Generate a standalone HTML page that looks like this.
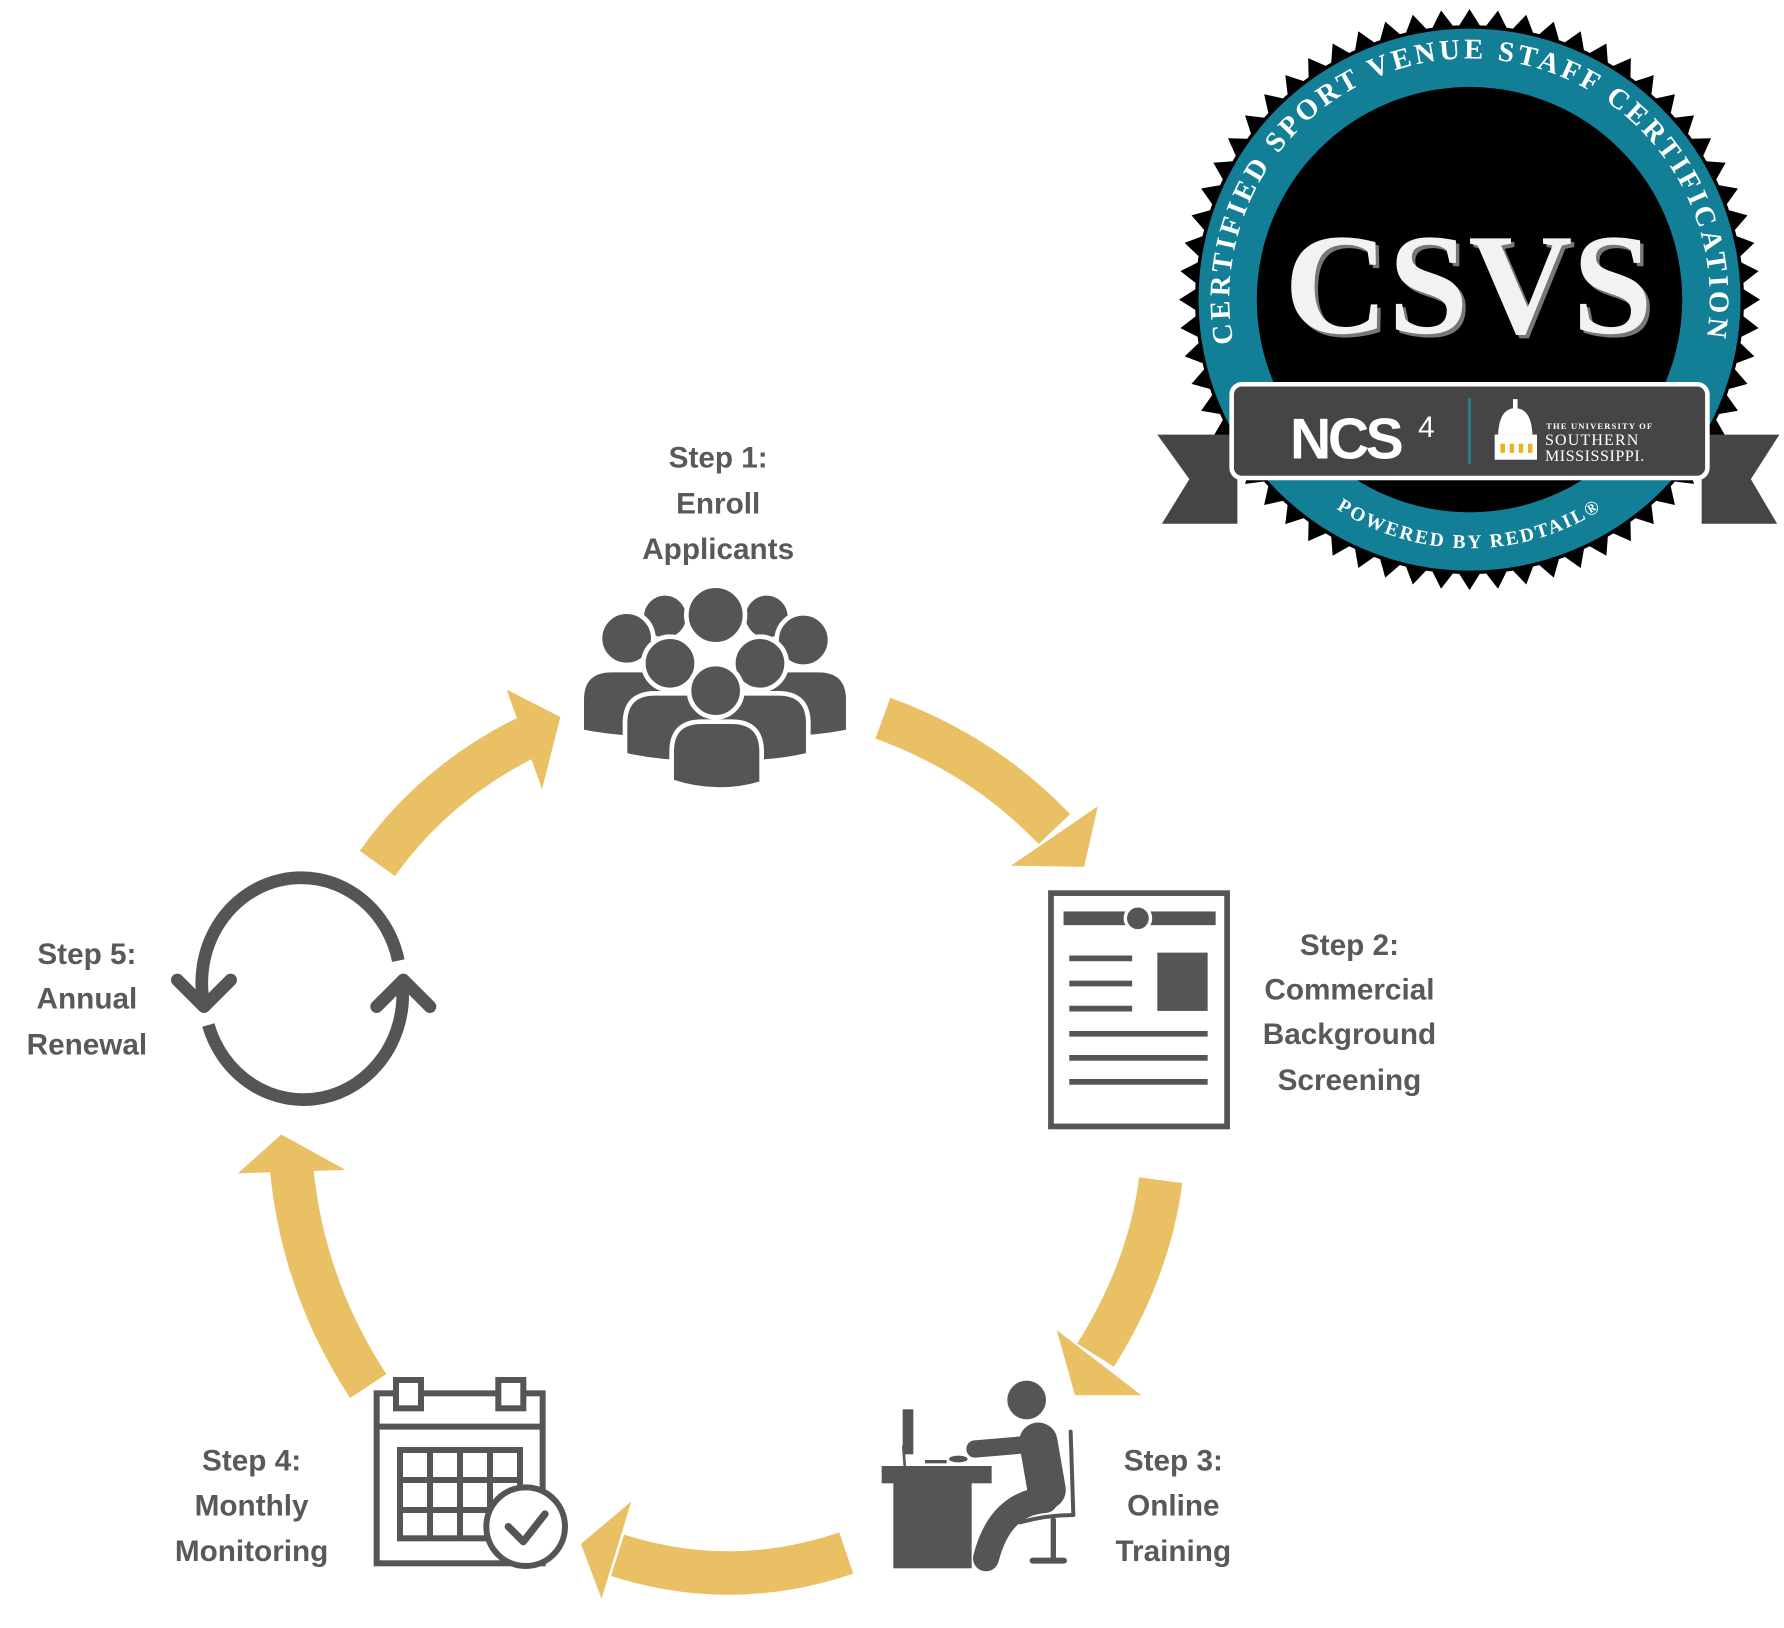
<!DOCTYPE html>
<html><head><meta charset="utf-8"><style>
html,body{margin:0;padding:0;background:#fff;}
svg{display:block;}
.lbl{font-family:"Liberation Sans",sans-serif;font-weight:bold;font-size:26px;fill:#595959;text-anchor:middle;}
</style></head><body>
<svg width="1784" height="1628" viewBox="0 0 1784 1628" xmlns="http://www.w3.org/2000/svg">
<g transform="scale(1.1436)">
  <!-- Badge -->
  <polygon id="star" fill="#000" points=""/>
  <circle cx="1285" cy="262" r="240" fill="#000" id="starfb"/>
  <circle cx="1285" cy="262" r="237" fill="#137f97"/>
  <circle cx="1285" cy="262" r="186" fill="#000"/>
  <defs>
    <path id="arcTop" d="M 1079 302 A 210 210 0 1 1 1491 302"/>
    <path id="arcBot" d="M 1111 390 A 214 214 0 0 0 1459 390"/>
  </defs>
  <text font-family="Liberation Serif,serif" font-weight="bold" font-size="25" fill="#fff"><textPath href="#arcTop" startOffset="2" textLength="732" lengthAdjust="spacing">CERTIFIED SPORT VENUE STAFF CERTIFICATION</textPath></text>
  <text font-family="Liberation Serif,serif" font-weight="bold" font-size="17" fill="#fff" letter-spacing="2"><textPath href="#arcBot" startOffset="50%" text-anchor="middle">POWERED BY REDTAIL®</textPath></text>
  <text x="1287" y="294" text-anchor="middle" font-family="Liberation Serif,serif" font-weight="bold" font-size="126" fill="#777">CSVS</text>
  <text x="1284" y="291" text-anchor="middle" font-family="Liberation Serif,serif" font-weight="bold" font-size="126" fill="#f2f2f2">CSVS</text>
  <polygon points="1012,380 1082,380 1082,458 1016,458 1040,419" fill="#454545"/>
  <polygon points="1488,380 1556,380 1531,419 1554,458 1488,458" fill="#454545"/>
  <rect x="1077" y="336" width="416" height="82" rx="9" fill="#454545" stroke="#fff" stroke-width="4"/>
  <text x="1128" y="401" font-family="Liberation Sans,sans-serif" font-weight="bold" font-size="50" fill="#fff" letter-spacing="-3">NCS</text>
  <text x="1240" y="382" font-family="Liberation Sans,sans-serif" font-size="26" fill="#fff">4</text>
  <line x1="1285" y1="348" x2="1285" y2="406" stroke="#1a8aa3" stroke-width="2"/>
  <g fill="#fff">
    <rect x="1323" y="349" width="4" height="10"/>
    <path d="M1310 380 Q1311 357 1325 357 Q1339 357 1340 380 Z"/>
    <rect x="1307" y="380" width="37" height="22"/>
  </g>
  <g fill="#e8b422"><rect x="1312" y="388" width="4" height="8"/><rect x="1320" y="388" width="4" height="8"/><rect x="1328" y="388" width="4" height="8"/><rect x="1336" y="388" width="4" height="8"/></g>
  <text x="1352" y="375" font-family="Liberation Serif,serif" font-weight="bold" font-size="7.5" fill="#fff" letter-spacing="1">THE UNIVERSITY OF</text>
  <text x="1351" y="389" font-family="Liberation Serif,serif" font-size="14" fill="#fff" letter-spacing="1">SOUTHERN</text>
  <text x="1351" y="403" font-family="Liberation Serif,serif" font-size="14" fill="#fff" letter-spacing="0.5">MISSISSIPPI.</text>

  <!-- Labels -->
  <text class="lbl"><tspan x="628" y="409">Step 1:</tspan><tspan x="628" y="449">Enroll</tspan><tspan x="628" y="489">Applicants</tspan></text>
  <text class="lbl"><tspan x="1180" y="835">Step 2:</tspan><tspan x="1180" y="874">Commercial</tspan><tspan x="1180" y="913">Background</tspan><tspan x="1180" y="953">Screening</tspan></text>
  <text class="lbl"><tspan x="1026" y="1286">Step 3:</tspan><tspan x="1026" y="1325">Online</tspan><tspan x="1026" y="1365">Training</tspan></text>
  <text class="lbl"><tspan x="220" y="1286">Step 4:</tspan><tspan x="220" y="1325">Monthly</tspan><tspan x="220" y="1365">Monitoring</tspan></text>
  <text class="lbl"><tspan x="76" y="843">Step 5:</tspan><tspan x="76" y="882">Annual</tspan><tspan x="76" y="922">Renewal</tspan></text>

  <!-- Arrows -->
  <g fill="none" stroke="#e9c064" stroke-width="38">
    <path d="M330 755 Q380 685 460 645"/>
    <path d="M772 628 Q860 660 922 725"/>
    <path d="M1015 1032 Q1005 1110 958 1185"/>
    <path d="M740 1358 Q640 1392 540 1360"/>
    <path d="M322 1212 Q265 1125 255 1022"/>
  </g>
  <g fill="#e9c064">
    <polygon points="443,603 490,627 474,690"/>
    <polygon points="960,705 948,758 884,757"/>
    <polygon points="924,1163 998,1220 940,1220"/>
    <polygon points="552,1313 508,1350 526,1398"/>
    <polygon points="208,1026 246,992 302,1023"/>
  </g>

  <!-- Document -->
  <rect x="919" y="781" width="154" height="204" fill="#fff" stroke="#555" stroke-width="5"/>
  <rect x="930" y="797" width="133" height="12" fill="#555"/>
  <circle cx="995" cy="803" r="11" fill="#555" stroke="#fff" stroke-width="3"/>
  <g stroke="#555" stroke-width="5"><line x1="935" y1="838" x2="990" y2="838"/><line x1="935" y1="860" x2="990" y2="860"/><line x1="935" y1="882" x2="990" y2="882"/><line x1="935" y1="904" x2="1056" y2="904"/><line x1="935" y1="925" x2="1056" y2="925"/><line x1="935" y1="946" x2="1056" y2="946"/></g>
  <rect x="1012" y="833" width="44" height="51" fill="#555"/>
</g>

<!-- People -->
<g transform="translate(570,570) scale(0.3333)" fill="#555" stroke="#fff" stroke-width="14">
  <circle cx="285" cy="140" r="70"/>
  <circle cx="590" cy="140" r="70"/>
  <circle cx="437" cy="135" r="88"/>
  <path d="M35 485 L35 390 Q35 300 125 300 L215 300 Q300 300 300 390 L300 505 Q160 510 35 485Z"/>
  <circle cx="170" cy="205" r="80"/>
  <path d="M835 485 L835 390 Q835 300 745 300 L655 300 Q570 300 570 390 L570 505 Q710 510 835 485Z"/>
  <circle cx="700" cy="210" r="80"/>
  <path d="M165 555 L165 460 Q165 370 255 370 L350 370 Q440 370 440 460 L440 575 Q290 585 165 555Z"/>
  <circle cx="300" cy="280" r="80"/>
  <path d="M715 555 L715 460 Q715 370 625 370 L530 370 Q435 370 435 460 L435 575 Q590 585 715 555Z"/>
  <circle cx="570" cy="280" r="80"/>
  <path d="M305 635 L305 545 Q305 455 395 455 L485 455 Q575 455 575 545 L575 640 Q440 680 305 635Z"/>
  <circle cx="437" cy="362" r="80"/>
</g>

<!-- Desk person -->
<g transform="translate(860,1350) scale(0.3333)">
  <g fill="#555">
    <circle cx="500" cy="150" r="58"/>
    <rect x="65" y="348" width="330" height="52"/>
    <rect x="100" y="398" width="235" height="257"/>
    <rect x="128" y="178" width="32" height="135"/>
    <rect x="195" y="330" width="65" height="10"/>
    <ellipse cx="295" cy="327" rx="28" ry="10"/>
  </g>
  <g fill="none" stroke="#555" stroke-linecap="round">
    <line x1="130" y1="290" x2="134" y2="345" stroke-width="8"/>
    <line x1="345" y1="297" x2="520" y2="282" stroke-width="52"/>
    <line x1="535" y1="275" x2="560" y2="420" stroke-width="115"/>
    <path d="M555 450 Q420 460 378 625" stroke-width="78"/>
    <line x1="632" y1="245" x2="640" y2="492" stroke-width="12"/>
    <path d="M480 517 Q560 495 640 495" stroke-width="12"/>
    <line x1="580" y1="510" x2="580" y2="630" stroke-width="16"/>
    <line x1="518" y1="632" x2="612" y2="632" stroke-width="18"/>
  </g>
</g>

<!-- Calendar -->
<g transform="translate(360,1370) scale(0.3333)" fill="none" stroke="#555" stroke-width="18">
  <rect x="50" y="70" width="498" height="510" fill="#fff"/>
  <line x1="50" y1="170" x2="548" y2="170"/>
  <rect x="108" y="30" width="75" height="85" fill="#fff"/>
  <rect x="415" y="30" width="75" height="85" fill="#fff"/>
  <rect x="120" y="240" width="360" height="265"/>
  <line x1="210" y1="240" x2="210" y2="505"/><line x1="300" y1="240" x2="300" y2="505"/><line x1="390" y1="240" x2="390" y2="505"/>
  <line x1="120" y1="330" x2="480" y2="330"/><line x1="120" y1="420" x2="480" y2="420"/>
  <circle cx="497" cy="470" r="118" fill="#fff"/>
  <polyline points="445,470 490,515 555,432" stroke-width="22" stroke-linecap="round" stroke-linejoin="round"/>
</g>

<!-- Renewal -->
<g transform="translate(160,870) scale(0.3333)" fill="none" stroke="#555" stroke-width="38" stroke-linecap="round" stroke-linejoin="round">
  <path d="M132 405 A 298 315 0 0 1 715 272" stroke-linecap="butt"/>
  <path d="M145 465 A 298 315 0 0 0 727 345" stroke-linecap="butt"/>
  <polyline points="52,330 132,410 212,330"/>
  <polyline points="650,410 730,330 810,410"/>
</g>
</svg>
<script>
(function(){var cx=1285,cy=262,n=64,ro=254,ri=236,p=[];for(var i=0;i<2*n;i++){var a=Math.PI*i/n-Math.PI/2,r=i%2?ri:ro;p.push((cx+r*Math.cos(a)).toFixed(1)+","+(cy+r*Math.sin(a)).toFixed(1));}document.getElementById('star').setAttribute('points',p.join(' '));})();
</script>
</body></html>
